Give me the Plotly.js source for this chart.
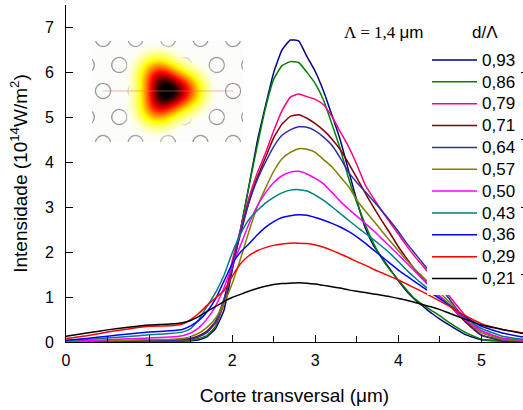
<!DOCTYPE html>
<html><head><meta charset="utf-8">
<script src="https://cdn.plot.ly/plotly-3.0.1.min.js"></script>
<style>html,body{margin:0;padding:0;background:#fff}#chart{width:523px;height:410px}</style>
</head><body><div id="chart"></div>
<script>
// ---- data ----
const xPos = [0,0.25,0.5,0.75,1.0,1.25,1.4,1.5,1.6,1.7,1.8,1.9,2.0,2.1,2.2,2.3,2.4,2.5,2.6,2.7,2.8,2.9,3.0,3.1,3.2,3.3,3.4,3.5,3.6,3.7,3.8,3.9,4.0,4.1,4.2,4.3,4.4,4.5,4.6,4.8,5.0,5.25,5.5];
const ratioLabels = ['0,93','0,86','0,79','0,71','0,64','0,57','0,50','0,43','0,36','0,29','0,21'];
const i093 = [0.01,0.01,0.01,0.01,0.01,0.02,0.02,0.03,0.05,0.12,0.3,0.7,1.6,2.5,3.45,4.45,5.25,6.0,6.5,6.72,6.7,6.35,6.02,5.58,5.05,4.5,3.82,3.15,2.55,2.15,1.88,1.62,1.36,1.13,0.94,0.79,0.64,0.51,0.39,0.17,0.05,0.02,0.01];
const i086 = [0.01,0.01,0.01,0.02,0.02,0.03,0.03,0.04,0.08,0.15,0.35,0.85,1.72,2.5,3.45,4.35,5.2,5.85,6.15,6.24,6.22,6.0,5.75,5.38,4.85,4.3,3.65,3.1,2.62,2.2,1.86,1.6,1.38,1.16,0.96,0.82,0.7,0.58,0.45,0.22,0.06,0.02,0.01];
const i079 = [0.01,0.01,0.02,0.02,0.03,0.04,0.05,0.06,0.12,0.22,0.42,0.86,1.8,2.5,3.2,3.75,4.2,4.7,5.15,5.45,5.52,5.46,5.4,5.28,5.02,4.68,4.35,3.95,3.5,3.2,2.92,2.66,2.4,2.14,1.9,1.68,1.46,1.25,1.05,0.6,0.25,0.07,0.03];
const i071 = [0.01,0.01,0.02,0.03,0.04,0.05,0.06,0.08,0.14,0.25,0.46,0.92,1.7,2.4,3.1,3.65,4.1,4.55,4.85,5.02,5.06,4.98,4.86,4.71,4.52,4.28,3.98,3.65,3.32,3.0,2.7,2.42,2.12,1.86,1.61,1.4,1.2,1.02,0.85,0.46,0.15,0.03,0.01];
const i064 = [0.01,0.01,0.02,0.02,0.03,0.04,0.05,0.07,0.12,0.22,0.45,0.95,1.62,2.45,3.1,3.6,4.0,4.35,4.6,4.72,4.79,4.78,4.7,4.56,4.38,4.1,3.78,3.55,3.35,3.14,2.92,2.7,2.46,2.2,1.97,1.74,1.5,1.24,0.99,0.5,0.16,0.04,0.02];
const i057 = [0.01,0.02,0.03,0.04,0.05,0.06,0.08,0.12,0.2,0.33,0.53,0.86,1.3,1.85,2.45,3.0,3.42,3.8,4.08,4.22,4.3,4.29,4.22,4.06,3.9,3.68,3.46,3.16,2.92,2.7,2.47,2.25,2.03,1.82,1.62,1.44,1.25,1.09,0.91,0.52,0.21,0.06,0.02];
const i050 = [0.02,0.03,0.05,0.07,0.09,0.11,0.14,0.2,0.32,0.52,0.8,1.2,1.7,2.15,2.62,3.02,3.32,3.55,3.7,3.78,3.8,3.74,3.64,3.52,3.33,3.13,2.96,2.8,2.64,2.48,2.3,2.12,1.94,1.76,1.57,1.38,1.19,1.01,0.85,0.5,0.25,0.09,0.04];
const i043 = [0.03,0.06,0.09,0.12,0.16,0.19,0.22,0.3,0.5,0.8,1.1,1.48,1.98,2.4,2.72,2.92,3.09,3.22,3.32,3.38,3.39,3.36,3.27,3.15,3.01,2.86,2.71,2.56,2.42,2.28,2.13,1.97,1.79,1.6,1.43,1.27,1.12,0.98,0.84,0.55,0.3,0.13,0.06];
const i036 = [0.04,0.08,0.13,0.18,0.22,0.25,0.28,0.36,0.48,0.68,0.96,1.35,1.74,2.0,2.18,2.38,2.55,2.68,2.77,2.81,2.83,2.82,2.77,2.71,2.64,2.56,2.46,2.34,2.2,2.05,1.9,1.75,1.6,1.47,1.34,1.21,1.08,0.96,0.83,0.57,0.35,0.2,0.11];
const i029 = [0.08,0.14,0.22,0.29,0.35,0.36,0.4,0.5,0.64,0.82,0.98,1.14,1.46,1.74,1.92,2.03,2.1,2.15,2.18,2.2,2.2,2.19,2.16,2.11,2.04,1.96,1.88,1.79,1.71,1.62,1.54,1.46,1.38,1.29,1.2,1.11,1.01,0.91,0.81,0.59,0.41,0.28,0.2];
const i021 = [0.13,0.2,0.27,0.33,0.38,0.4,0.43,0.48,0.57,0.68,0.79,0.9,0.99,1.06,1.13,1.19,1.24,1.28,1.3,1.31,1.32,1.31,1.29,1.26,1.23,1.2,1.16,1.13,1.1,1.07,1.04,1.01,0.97,0.93,0.88,0.83,0.78,0.72,0.65,0.51,0.38,0.28,0.19];
const seriesValues = [i093,i086,i079,i071,i064,i057,i050,i043,i036,i029,i021];
const rightTickVals = [1.5,3,4.5,6];

// ---- styles ----
const lineColors = ['#000080','#008000','#ff0080','#800000','#2f2fa8','#808000','#ff00ff','#008080','#0000ff','#ff0000','#000000'];

// ---- inset picture (field map over hole lattice) ----
function buildInset(){
  const W=151,H=101,S=3;
  const cv=document.createElement('canvas'); cv.width=W*S; cv.height=H*S;
  const g=cv.getContext('2d');
  g.fillStyle='#fcfcfa'; g.fillRect(0,0,cv.width,cv.height);
  g.save(); g.scale(S,S);
  g.strokeStyle='#8c8c8c'; g.lineWidth=1.1;
  const ox=11, px=32.5, py=26, r=7.5;
  for(let row=0;row<=4;row++){
    const cy=50+(row-2)*py;
    const shift=(row%2===0)?0:-px/2;
    for(let k=-1;k<=6;k++){
      const cx=ox+k*px+shift;
      g.beginPath(); g.arc(cx,cy,r,0,2*Math.PI); g.stroke();
    }
  }
  g.restore();
  const fc=document.createElement('canvas'); fc.width=W*S; fc.height=H*S;
  const fg=fc.getContext('2d'); const im=fg.createImageData(fc.width,fc.height);
  const cx0=75, cy0=50;
  const dirs=[[-16,-26],[-16,26],[33,0]].map(d=>{const n=Math.hypot(d[0],d[1]);return [d[0]/n*21,d[1]/n*21];});
  const val=(dx,dy)=>{let v=Math.exp(-(dx*dx+dy*dy)/(2*14*14));for(const l of dirs){const a=dx-l[0],b=dy-l[1];v+=0.38*Math.exp(-(a*a+b*b)/(2*12*12));}return v;};
  const vmax=val(0,0);
  for(let j=0;j<fc.height;j++){for(let i=0;i<fc.width;i++){
    const x=(i+0.5)/S, y=(j+0.5)/S;
    const t=Math.min(1,val(x-cx0,y-cy0)/vmax);
    let R,G,B;
    if(t<0.22){R=255;G=255;B=255*(1-t/0.22);}
    else if(t<0.6){R=255;G=255*(1-(t-0.22)/0.38);B=0;}
    else {R=255*Math.max(0,1-(t-0.6)/0.34);G=0;B=0;}
    const a=Math.min(1,t/0.05);
    const p=(j*fc.width+i)*4; im.data[p]=R; im.data[p+1]=G; im.data[p+2]=B; im.data[p+3]=Math.round(a*255);
  }}
  fg.putImageData(im,0,0);
  g.drawImage(fc,0,0);
  g.strokeStyle='rgba(240,110,110,0.5)'; g.lineWidth=S;
  g.beginPath(); g.moveTo(11*S,50*S); g.lineTo(141*S,50*S); g.stroke();
  return cv.toDataURL('image/png');
}

const traces = ratioLabels.map((lab,k)=>({
  type:'scatter', mode:'lines', x:xPos, y:seriesValues[k],
  name:'<span style="font-size:17px">'+lab+'</span>',
  line:{color:lineColors[k], width:1.5, shape:'spline', smoothing:0.4},
  hoverinfo:'skip'
}));
traces.push({type:'scatter', mode:'lines', x:[], y:[], yaxis:'y2', showlegend:false, hoverinfo:'skip'});

const layout = {
  width:523, height:410, margin:{l:66, r:0, t:5, b:68},
  paper_bgcolor:'#ffffff', plot_bgcolor:'#ffffff',
  font:{family:'Liberation Sans, Arial, sans-serif', color:'#000', size:16},
  showlegend:true,
  xaxis:{range:[0,5.5], showline:true, linecolor:'#000', linewidth:1, ticks:'inside', ticklen:7, tickcolor:'#000',
    tick0:0, dtick:1, minor:{tick0:0, dtick:0.5, ticks:'inside', ticklen:6, tickcolor:'#000'},
    showgrid:false, zeroline:false, tickfont:{size:16}, ticklabelstandoff:4,
    title:{text:'Corte transversal (μm)', font:{size:19}, standoff:20}},
  yaxis:{range:[0,7.5], showline:true, linecolor:'#000', linewidth:1, ticks:'inside', ticklen:7, tickcolor:'#000',
    tick0:0, dtick:1, showgrid:false, zeroline:false, tickfont:{size:16}, ticklabelstandoff:8, automargin:true,
    title:{text:'Intensidade (10<sup>14</sup>W/m<sup>2</sup>)', font:{size:19}, standoff:12}},
  yaxis2:{overlaying:'y', side:'right', range:[0,7.5], tickvals:rightTickVals, ticks:'inside', ticklen:6, tickcolor:'#000',
    showticklabels:false, showline:false, showgrid:false, zeroline:false},
  legend:{x:0.79, y:0.884, xanchor:'left', yanchor:'top', bgcolor:'#ffffff', borderwidth:0, font:{size:14.5}, itemwidth:45},
  annotations:[
    {text:'d/Λ', xref:'paper', yref:'paper', x:0.917, y:0.917, xanchor:'center', yanchor:'middle', showarrow:false, font:{size:17}},
    {text:'Λ = 1,4 <span style="font-family:Liberation Sans, Arial">μm</span>', xref:'paper', yref:'paper', x:0.694, y:0.917, xanchor:'center', yanchor:'middle', showarrow:false, font:{size:17, family:'Liberation Serif, Times New Roman, serif'}}
  ],
  images:[{source:buildInset(), xref:'paper', yref:'paper', x:0.0569, y:0.8932, sizex:0.3304, sizey:0.2997, sizing:'stretch', xanchor:'left', yanchor:'top', layer:'above'}]
};

Plotly.newPlot('chart', traces, layout, {staticPlot:true, displayModeBar:false});
</script>
</body></html>
